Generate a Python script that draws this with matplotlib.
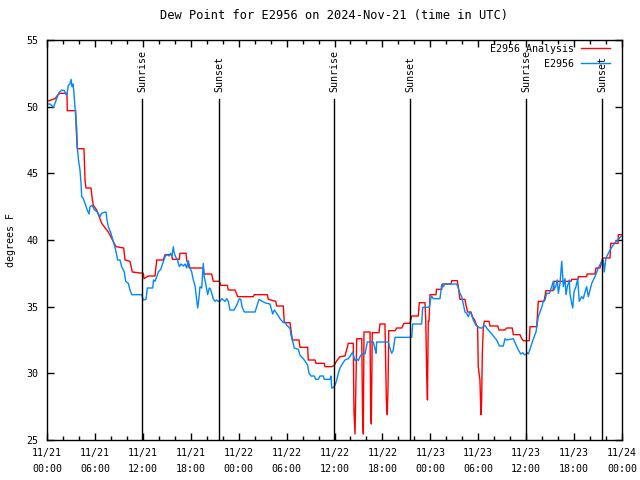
#dew point for E2956, analysis vs. observations

#libraries
import numpy as np
import matplotlib
matplotlib.use('Agg')
from matplotlib import pyplot as plt
from matplotlib import transforms

#####################################data (hours since 2024-11-21 00:00 UTC, deg F)
obs_hours = [0.00, 0.38, 0.79, 1.00, 1.21, 1.50, 1.84, 2.17, 2.38, 2.50, 2.67, 2.88, 3.01, 3.13,
             3.26, 3.38, 3.51, 3.72, 3.79, 3.94, 4.13, 4.26, 4.35, 4.55, 4.76, 5.01, 5.26, 5.38,
             5.67, 5.89, 6.30, 6.64, 6.82, 7.05, 7.39, 7.51, 7.68, 8.01, 8.30, 8.60, 8.85, 9.14,
             9.35, 9.68, 9.85, 10.18, 10.39, 10.61, 11.86, 12.06, 12.40, 12.56, 13.24, 13.34,
             13.52, 13.74, 13.94, 14.24, 14.49, 14.78, 15.03, 15.28, 15.46, 15.65, 15.82, 15.90,
             16.09, 16.32, 16.57, 16.78, 17.07, 17.28, 17.49, 17.69, 17.91, 18.12, 18.32, 18.53,
             18.75, 18.87, 19.00, 19.16, 19.37, 19.57, 19.70, 19.82, 20.12, 20.32, 20.50, 20.62,
             20.82, 21.04, 21.25, 21.45, 21.66, 21.88, 22.08, 22.29, 22.50, 22.70, 22.91, 23.42,
             23.75, 24.08, 24.26, 24.42, 24.71, 26.05, 26.26, 26.55, 27.08, 27.51, 27.92, 28.14,
             28.26, 28.46, 28.76, 29.18, 29.59, 29.80, 30.02, 30.22, 30.43, 30.55, 30.72, 30.97,
             31.47, 31.68, 32.09, 32.39, 32.64, 32.81, 33.06, 33.47, 33.65, 33.97, 34.18, 34.60,
             34.72, 35.44, 35.56, 35.65, 35.77, 36.06, 36.28, 36.48, 36.69, 37.03, 37.31, 37.73,
             38.03, 38.28, 38.44, 38.57, 38.78, 38.98, 39.19, 39.41, 39.82, 40.03, 40.11, 40.86,
             41.07, 41.20, 41.28, 42.74, 42.95, 43.16, 43.36, 43.58, 45.67, 45.79, 46.92, 47.04,
             47.87, 48.05, 48.17, 48.37, 49.21, 49.42, 49.62, 49.84, 51.30, 51.50, 51.71, 51.93,
             52.13, 52.34, 52.55, 52.75, 52.97, 53.18, 53.38, 53.72, 54.22, 54.43, 54.84, 55.06,
             55.48, 55.89, 56.31, 56.64, 57.14, 57.35, 57.56, 57.98, 58.39, 58.60, 58.82, 59.02,
             59.32, 59.57, 59.77, 59.98, 60.14, 60.27, 60.48, 60.82, 61.23, 61.52, 61.73, 61.95,
             62.15, 62.36, 62.57, 62.90, 63.20, 63.40, 63.49, 63.74, 63.90, 64.03, 64.24, 64.45,
             64.58, 64.65, 64.86, 64.99, 65.15, 65.40, 65.49, 65.70, 65.83, 65.99, 66.24, 66.45,
             66.65, 66.95, 67.15, 67.37, 67.58, 67.78, 67.99, 68.21, 68.62, 69.03, 69.46, 69.66,
             69.78, 69.99, 70.28, 70.50, 70.87, 71.25, 71.50, 71.75, 72.00]
obs_dewpt = [50.2, 50.2, 49.95, 50.25, 50.6, 51.05, 51.25, 51.2, 50.9, 50.9, 51.6, 51.7, 52.05, 51.5,
             51.7, 51.0, 49.9, 48.4, 47.0, 46.0, 45.25, 44.25, 43.25, 43.1, 42.75, 42.3, 41.95, 42.5,
             42.6, 42.3, 42.1, 41.75, 42.0, 42.05, 42.1, 41.5, 41.0, 40.5, 39.9, 39.25, 38.5, 38.5,
             38.0, 37.6, 36.9, 36.75, 36.25, 35.9, 35.9, 35.5, 35.55, 36.4, 36.4, 37.0,
             36.9, 37.25, 37.6, 37.8, 38.25, 38.75, 38.9, 38.8, 39.0, 38.8, 39.5, 39.1,
             38.75, 38.55, 38.0, 38.2, 38.05, 38.2, 37.9, 38.45, 37.9, 37.6, 37.0, 36.6,
             35.5, 34.9, 35.5, 36.5, 36.4, 38.25, 37.2, 36.9, 35.9, 36.4, 36.3, 36.0,
             35.6, 35.4, 35.5, 35.4, 35.4, 35.6, 35.5, 35.4, 35.6, 35.4, 34.75, 34.75,
             35.1, 35.6, 35.55, 35.0, 34.6, 34.6, 35.0, 35.55, 35.35, 35.25, 35.2, 34.7,
             34.45, 34.75, 34.5, 34.1, 33.8, 33.85, 33.6, 33.5, 33.35, 32.9, 32.5, 31.9,
             31.8, 31.35, 31.1, 30.85, 30.6, 30.0, 29.8, 29.8, 29.55, 29.55, 29.8, 29.8,
             29.55, 29.55, 29.8, 28.9, 28.9, 29.1, 29.5, 30.0, 30.4, 30.75, 31.0, 31.1,
             31.35, 31.6, 31.2, 30.95, 31.1, 30.95, 31.25, 31.45, 31.45, 32.1, 32.35, 32.35,
             31.85, 31.5, 32.35, 32.35, 31.85, 31.5, 31.75, 32.7, 32.7, 33.7, 33.7, 34.95,
             34.95, 35.6, 35.8, 35.6, 35.6, 36.65, 36.5, 36.7, 36.7, 36.4, 36.0, 35.75,
             35.2, 34.6, 34.5, 34.25, 34.6, 34.4, 34.0, 33.6, 33.4, 33.4, 33.6, 33.4,
             33.1, 32.8, 32.5, 32.05, 32.05, 32.6, 32.5, 32.55, 32.6, 32.3, 32.0, 31.75,
             31.45, 31.55, 31.4, 31.4, 31.55, 31.45, 31.8, 32.45, 33.1, 34.25, 34.6, 34.95,
             35.4, 35.5, 36.0, 36.0, 36.5, 36.9, 36.25, 36.6, 37.0, 36.0, 36.75, 38.4,
             37.25, 36.5, 37.1, 35.9, 36.5, 37.0, 36.0, 35.25, 34.9, 36.1, 36.5, 37.1,
             35.4, 35.75, 35.6, 36.1, 36.5, 35.75, 36.25, 36.75, 37.25, 37.9, 38.4, 38.5,
             37.6, 38.65, 39.0, 39.25, 39.6, 39.9, 40.0, 40.2, 40.3]

ana_hours = [0.00, 0.50, 1.00, 1.38, 1.63, 2.50, 2.54, 3.59, 3.66, 3.79, 4.63, 4.76, 4.88, 5.51,
             5.67, 5.80, 6.22, 6.85, 7.68, 8.64, 9.60, 9.77, 10.39, 10.68, 12.06, 12.15, 12.68,
             13.52, 13.74, 14.56, 14.78, 15.61, 15.71, 16.57, 16.65, 17.41, 17.49, 17.82, 19.57,
             19.66, 20.62, 20.82, 21.58, 21.75, 22.58, 22.70, 23.54, 23.88, 25.83, 25.96, 27.59,
             27.71, 28.64, 28.76, 29.59, 29.71, 30.43, 30.72, 31.56, 31.68, 32.64, 32.72, 33.56,
             33.68, 34.72, 34.81, 35.65, 35.98, 36.28, 36.69, 37.31, 37.44, 37.73, 38.35, 38.44,
             38.57, 38.78, 39.41, 39.51, 39.61, 39.69, 40.45, 40.53, 40.61, 40.73, 41.57, 41.69,
             42.32, 42.49, 42.61, 42.70, 42.79, 43.58, 43.79, 44.42, 44.70, 45.45, 45.67, 46.49,
             46.62, 47.33, 47.43, 47.54, 47.64, 47.74, 47.83, 47.96, 48.71, 48.77, 49.42, 49.52,
             50.59, 50.68, 51.38, 51.50, 51.71, 52.34, 52.42, 52.67, 53.09, 53.25, 53.50, 53.80,
             53.92, 54.00, 54.21, 54.34, 54.42, 54.51, 54.63, 54.76, 55.35, 55.48, 56.44, 56.60,
             57.35, 57.56, 58.26, 58.39, 59.23, 59.44, 59.64, 60.39, 60.48, 61.32, 61.52, 62.23,
             62.48, 63.36, 63.49, 65.62, 65.70, 66.49, 66.53, 67.58, 67.62, 68.62, 68.74, 69.24,
             69.46, 69.58, 70.50, 70.59, 71.50, 71.54, 72.00]
ana_dewpt = [50.4, 50.5, 50.6, 50.9, 51.0, 51.0, 49.7, 49.7, 48.3, 46.85, 46.85, 44.5, 43.9, 43.9,
             43.05, 42.6, 42.25, 41.25, 40.6, 39.5, 39.4, 38.5, 38.4, 37.6, 37.5, 37.1, 37.3,
             37.3, 38.5, 38.5, 38.9, 38.9, 38.55, 38.55, 39.0, 39.0, 38.5, 37.9, 37.9,
             37.45, 37.45, 36.9, 36.9, 36.6, 36.6, 36.25, 36.25, 35.75, 35.75, 35.9, 35.9,
             35.55, 35.4, 35.05, 35.05, 33.8, 33.8, 32.5, 32.5, 31.95, 31.95, 31.0, 31.0,
             30.75, 30.75, 30.5, 30.5, 30.6, 30.95, 31.25, 31.3, 31.6, 32.25, 32.25, 27.1,
             25.45, 32.6, 32.6, 27.0, 25.45, 33.1, 33.1, 27.0, 26.2, 33.05, 33.05, 33.7,
             33.7, 28.0, 26.9, 29.0, 33.2, 33.2, 33.4, 33.4, 33.75, 33.75, 34.3, 34.3,
             35.3, 35.3, 34.0, 30.0, 28.0, 33.9, 33.9, 35.9, 35.9, 36.3, 36.3, 36.7,
             36.7, 36.95, 36.95, 36.5, 35.55, 35.55, 35.25, 34.6, 34.6, 34.25, 34.05, 33.6,
             33.5, 30.5, 29.5, 26.9, 27.9, 31.5, 33.4, 33.9, 33.9, 33.55, 33.55, 33.25,
             33.25, 33.4, 33.4, 32.9, 32.9, 32.6, 32.45, 32.45, 33.5, 33.5, 35.4, 35.4,
             36.2, 36.2, 36.9, 36.9, 37.05, 37.05, 37.25, 37.25, 37.45, 37.45, 37.9, 37.9,
             38.4, 38.65, 38.65, 39.75, 39.75, 40.4, 40.4]

sun_hours = [11.93, 21.58, 35.98, 45.49, 60.02, 69.53]
sun_labels = ['Sunrise', 'Sunset', 'Sunrise', 'Sunset', 'Sunrise', 'Sunset']

tick_hours = [0, 6, 12, 18, 24, 30, 36, 42, 48, 54, 60, 66, 72]
tick_labels = ['11/21\n00:00', '11/21\n06:00', '11/21\n12:00', '11/21\n18:00',
               '11/22\n00:00', '11/22\n06:00', '11/22\n12:00', '11/22\n18:00',
               '11/23\n00:00', '11/23\n06:00', '11/23\n12:00', '11/23\n18:00',
               '11/24\n00:00']

######################################plot
plt.rcParams['font.family'] = ['DejaVu Sans Mono']
plt.rcParams['font.size'] = 7.2

fig = plt.figure(figsize=(6.4, 4.8), dpi=100)
ax = fig.add_axes([47/640, 40/480, 575/640, 400/480])

ax.plot(ana_hours, ana_dewpt, color='#ff0000', lw=1.0, label='E2956 Analysis')
ax.plot(obs_hours, obs_dewpt, color='#0088ff', lw=1.0, label='E2956')

#sunrise / sunset markers
trans = transforms.blended_transform_factory(ax.transData, ax.transAxes)
for h, lab in zip(sun_hours, sun_labels):
    ax.axvline(h, ymin=0, ymax=0.853, color='black', lw=1.0)
    ax.text(h, 0.87, lab, rotation=90, ha='center', va='bottom', transform=trans)

ax.set_xlim(0, 72)
ax.set_ylim(25, 55)
ax.set_xticks(tick_hours)
ax.set_xticklabels(tick_labels, linespacing=1.7)
ax.set_xticks(np.arange(0, 73, 2), minor=True)
ax.set_yticks(np.arange(25, 56, 5))
ax.tick_params(which='both', direction='in', top=True, right=True, width=1.0)
ax.tick_params(which='major', length=5, pad=6)
ax.tick_params(which='minor', length=3)
for s in ax.spines.values():
    s.set_linewidth(1.0)

ax.set_ylabel('degrees F', labelpad=8)
ax.set_title('Dew Point for E2956 on 2024-Nov-21 (time in UTC)', pad=15)
ax.legend(loc='upper right', bbox_to_anchor=(1 - 8/575, 1.0), frameon=False,
          markerfirst=False, handlelength=2.9, borderaxespad=0.0, labelspacing=0.5,
          handletextpad=0.7)

fig.savefig('out.png', dpi=100)
